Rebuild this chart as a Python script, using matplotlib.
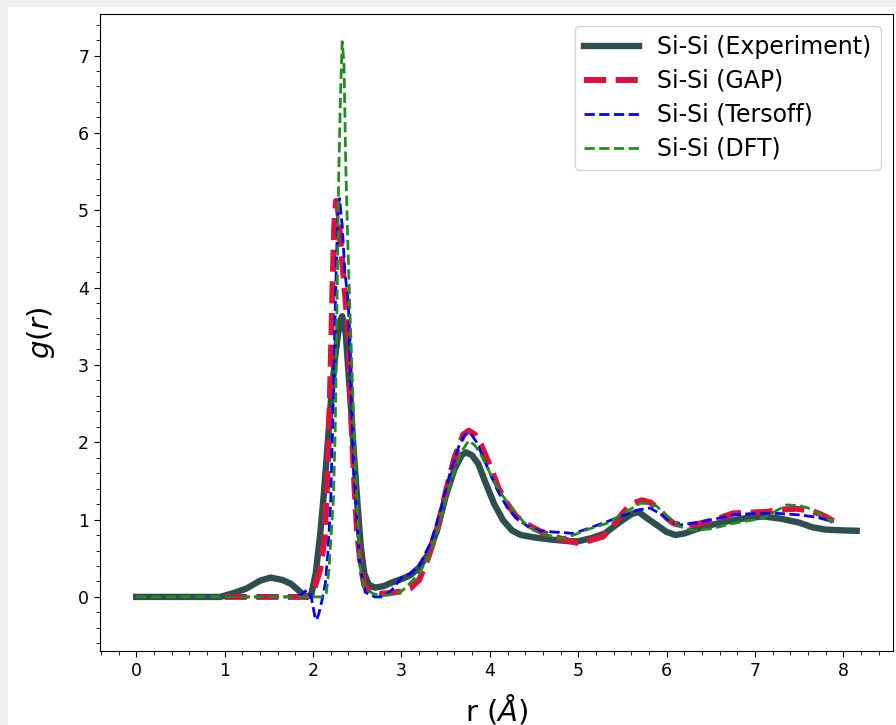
import matplotlib
matplotlib.use("Agg")
import matplotlib.pyplot as plt
from matplotlib.patches import Rectangle

# Si-Si radial distribution functions g(r)
r_exp = [0.0, 0.5, 0.95, 1.1, 1.25, 1.4, 1.52, 1.65, 1.75, 1.85, 1.93, 1.98,
         2.03, 2.08, 2.12, 2.16, 2.2, 2.25, 2.3, 2.33, 2.37, 2.42, 2.46, 2.5,
         2.54, 2.58, 2.63, 2.7, 2.8, 2.9, 3.0, 3.1, 3.2, 3.3, 3.4, 3.5, 3.6,
         3.68, 3.73, 3.8, 3.87, 3.95, 4.05, 4.15, 4.25, 4.35, 4.5, 4.7, 4.9,
         5.0, 5.15, 5.3, 5.45, 5.6, 5.68, 5.8, 5.9, 6.0, 6.1, 6.2, 6.35, 6.5,
         6.7, 6.9, 7.1, 7.3, 7.5, 7.65, 7.8, 8.0, 8.15]
g_exp = [0.0, 0.0, 0.0, 0.05, 0.11, 0.21, 0.25, 0.22, 0.17, 0.07, 0.0, 0.03,
         0.3, 0.8, 1.3, 1.9, 2.5, 3.1, 3.55, 3.63, 3.4, 2.6, 1.9, 1.25,
         0.65, 0.3, 0.16, 0.12, 0.14, 0.19, 0.23, 0.28, 0.38, 0.55, 0.85, 1.3, 1.65,
         1.83, 1.87, 1.83, 1.72, 1.48, 1.2, 0.99, 0.86, 0.8, 0.77, 0.74, 0.72,
         0.72, 0.76, 0.82, 0.95, 1.07, 1.1, 1.0, 0.92, 0.84, 0.8, 0.82, 0.88, 0.93,
         0.98, 1.02, 1.04, 1.01, 0.96, 0.9, 0.87, 0.86, 0.855]

r_gap = [1.0, 1.5, 1.9, 1.96, 2.02, 2.08, 2.13, 2.16, 2.18, 2.2, 2.22, 2.24,
         2.26, 2.28, 2.31, 2.34, 2.37, 2.4, 2.44, 2.47, 2.5, 2.54, 2.58, 2.65,
         2.75, 2.87, 3.0, 3.1, 3.2, 3.3, 3.4, 3.5, 3.6, 3.7, 3.76, 3.83, 3.9,
         4.0, 4.1, 4.2, 4.3, 4.4, 4.5, 4.6, 4.72, 4.85, 4.98, 5.1, 5.28, 5.4,
         5.5, 5.6, 5.72, 5.82, 5.92, 6.0, 6.08, 6.2, 6.38, 6.55, 6.75, 6.95,
         7.13, 7.3, 7.47, 7.6, 7.72, 7.81, 7.9]
g_gap = [0.0, 0.0, 0.0, 0.02, 0.13, 0.35, 0.75, 1.5, 2.1, 3.0, 4.0, 4.8,
         5.12, 5.05, 4.6, 4.2, 3.8, 3.4, 2.1, 1.4, 0.82, 0.4, 0.15, 0.06,
         0.04, 0.05, 0.07, 0.11, 0.22, 0.5, 0.85, 1.35, 1.8, 2.1, 2.15, 2.1, 1.97,
         1.7, 1.4, 1.2, 1.04, 0.95, 0.89, 0.83, 0.78, 0.74, 0.7, 0.72, 0.78, 0.93,
         1.08, 1.2, 1.25, 1.22, 1.12, 1.02, 0.95, 0.92, 0.95, 1.0, 1.08, 1.09,
         1.1, 1.13, 1.14, 1.12, 1.08, 1.03, 0.97]

r_ters = [1.0, 1.5, 1.8, 1.87, 1.93, 1.98, 2.02, 2.04, 2.07, 2.1, 2.14, 2.17,
          2.2, 2.23, 2.25, 2.28, 2.3, 2.33, 2.36, 2.4, 2.42, 2.46, 2.5, 2.53,
          2.59, 2.7, 2.8, 2.9, 3.0, 3.1, 3.2, 3.33, 3.45, 3.55, 3.65, 3.72,
          3.78, 3.85, 3.97, 4.1, 4.2, 4.3, 4.42, 4.55, 4.7, 4.85, 4.95, 5.1,
          5.32, 5.5, 5.66, 5.81, 5.95, 6.05, 6.15, 6.35, 6.6, 6.75, 7.0, 7.25,
          7.51, 7.7, 7.89]
g_ters = [0.0, 0.0, 0.0, 0.03, 0.09, 0.0, -0.25, -0.3, -0.2, -0.05, 0.18, 0.6,
          1.25, 2.55, 3.67, 5.0, 5.15, 4.8, 4.2, 3.8, 3.0, 1.7, 0.9, 0.4,
          0.06, 0.0, 0.0, 0.1, 0.25, 0.3, 0.4, 0.7, 1.15, 1.6, 1.95, 2.1,
          2.12, 2.0, 1.68, 1.35, 1.15, 1.02, 0.92, 0.86, 0.84, 0.83, 0.82, 0.88,
          0.97, 1.05, 1.12, 1.15, 1.06, 0.97, 0.93, 0.96, 1.02, 1.06, 1.08, 1.08,
          1.06, 1.03, 0.97]

r_dft = [0.0, 1.0, 2.0, 2.12, 2.15, 2.18, 2.21, 2.23, 2.25, 2.27, 2.29, 2.31,
         2.33, 2.35, 2.37, 2.39, 2.42, 2.44, 2.48, 2.53, 2.58, 2.68, 2.8, 2.9,
         3.0, 3.1, 3.2, 3.33, 3.42, 3.51, 3.6, 3.67, 3.76, 3.83, 3.89, 3.96,
         4.04, 4.15, 4.27, 4.38, 4.5, 4.65, 4.8, 4.95, 5.1, 5.32, 5.5, 5.7,
         5.8, 5.89, 6.0, 6.15, 6.3, 6.5, 6.75, 7.0, 7.13, 7.25, 7.36, 7.5,
         7.6, 7.75, 7.89]
g_dft = [0.0, 0.0, 0.0, 0.0, 0.05, 0.35, 0.9, 1.25, 2.1, 3.67, 5.4, 6.47,
         7.18, 6.9, 5.6, 4.7, 3.6, 2.95, 1.65, 0.4, 0.12, 0.04, 0.02, 0.03,
         0.07, 0.18, 0.3, 0.57, 0.9, 1.3, 1.62, 1.86, 2.02, 1.96, 1.86, 1.7,
         1.51, 1.3, 1.12, 0.97, 0.86, 0.8, 0.76, 0.8, 0.87, 0.95, 1.07, 1.21,
         1.21, 1.17, 1.05, 0.91, 0.86, 0.88, 0.95, 1.0, 1.04, 1.12, 1.19, 1.18,
         1.15, 1.06, 0.97]

fig = plt.figure(figsize=(8.96, 7.25), dpi=100, facecolor="#f0f0f0")
# white page area (the reference is a screenshot with a grey margin)
fig.patches.append(Rectangle((0.009, 0.0), 1.0, 0.99, transform=fig.transFigure,
                             facecolor="white", edgecolor="none", zorder=-1))
ax = fig.add_axes([0.1116, 0.102, 0.885, 0.879])

ax.plot(r_exp, g_exp, color="darkslategray", lw=4.6, label="Si-Si (Experiment)")
ax.plot(r_gap, g_gap, color="crimson", lw=4.3, ls="--", label="Si-Si (GAP)")
ax.plot(r_ters, g_ters, color="blue", lw=2.0, ls="--", label="Si-Si (Tersoff)")
ax.plot(r_dft, g_dft, color="forestgreen", lw=2.0, ls="--", label="Si-Si (DFT)")

ax.set_xlim(-0.41, 8.56)
ax.set_ylim(-0.70, 7.54)
ax.minorticks_on()
ax.tick_params(which="major", length=4.3, labelsize=12.5)
ax.tick_params(which="minor", length=2.7)

ax.set_xlabel(r"r ($\AA$)", fontsize=21, labelpad=9)
ax.set_ylabel(r"$g(r)$", fontsize=21, labelpad=15)
ax.legend(loc="upper right", fontsize=17, handlelength=2.3, labelspacing=0.42)

fig.savefig("out.png", dpi=100, facecolor=fig.get_facecolor())
